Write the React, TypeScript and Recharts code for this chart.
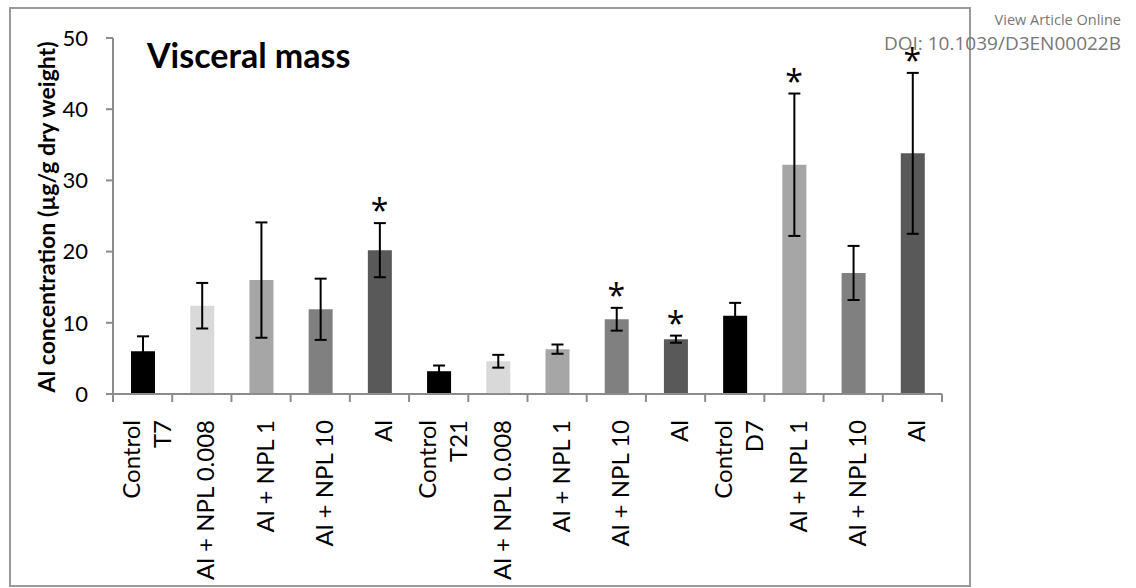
import React from "react";
import {
  ComposedChart,
  Bar,
  Cell,
  ErrorBar,
  Line,
  XAxis,
  YAxis,
} from "recharts";

const categories = [
  "Control\nT7",
  "Al + NPL 0.008",
  "Al + NPL 1",
  "Al + NPL 10",
  "Al",
  "Control\nT21",
  "Al + NPL 0.008",
  "Al + NPL 1",
  "Al + NPL 10",
  "Al",
  "Control\nD7",
  "Al + NPL 1",
  "Al + NPL 10",
  "Al",
];
const values = [6.0, 12.4, 16.0, 11.9, 20.2, 3.2, 4.6, 6.3, 10.5, 7.7, 11.0, 32.2, 17.0, 33.8];
const errors = [2.1, 3.2, 8.1, 4.3, 3.8, 0.8, 0.9, 0.65, 1.6, 0.5, 1.8, 10.0, 3.8, 11.3];
const significant = [false, false, false, false, true, false, false, false, true, true, false, true, false, true];
const yTicks = [0, 10, 20, 30, 40, 50];

const treatmentColors: Record<string, string> = {
  Control: "#000000",
  "Al + NPL 0.008": "#d9d9d9",
  "Al + NPL 1": "#a6a6a6",
  "Al + NPL 10": "#808080",
  Al: "#595959",
};

const colorFor = (label: string) =>
  label.startsWith("Control") ? treatmentColors.Control : treatmentColors[label];

const data = categories.map((c, i) => ({
  key: String(i),
  value: values[i],
  err: errors[i],
  star: significant[i] ? values[i] + errors[i] : null,
}));

const FONT = "Lato, 'Open Sans', sans-serif";
const AXIS = "#8c8c8c";

// category label plus Excel-style tick marks on the category boundaries
function XTick(props: any) {
  const { x, y, payload, index, width, visibleTicksCount } = props;
  const lines = categories[Number(payload.value)].split("\n");
  const fs = 24;
  const lh = 31;
  const step = Number(width) / Number(visibleTicksCount);
  const marks = Number.isFinite(step)
    ? index === visibleTicksCount - 1
      ? [x - step / 2, x + step / 2]
      : [x - step / 2]
    : [];
  return (
    <g>
      {marks.map((mx, i) => (
        <line key={i} x1={mx} x2={mx} y1={y} y2={y + 8} stroke={AXIS} strokeWidth={2} />
      ))}
      <g transform={`translate(${x + 4},${y + 26}) rotate(-90)`}>
        <text textAnchor="end" fontSize={fs} fontFamily={FONT} fill="#000" stroke="none">
          {lines.map((l, i) => (
            <tspan key={i} x={0} y={(i - (lines.length - 1) / 2) * lh + fs * 0.36}>
              {l}
            </tspan>
          ))}
        </text>
      </g>
    </g>
  );
}

function StarDot(props: any) {
  const { cx, cy, payload, index } = props;
  if (payload.star == null || cy == null) return <g key={index} />;
  return (
    <text
      key={index}
      x={cx}
      y={cy - 1}
      textAnchor="middle"
      fontSize={32}
      fontFamily="'Open Sans', sans-serif"
      fill="#000"
    >
      *
    </text>
  );
}

export default function App() {
  return (
    <div
      style={{
        position: "absolute",
        left: 0,
        top: 0,
        width: 1136,
        height: 588,
        background: "#fff",
      }}
    >
      <div
        style={{
          position: "absolute",
          left: 9,
          top: 7,
          width: 962,
          height: 580,
          boxSizing: "border-box",
          border: "2px solid #9a9a9a",
        }}
      />
      <div style={{ position: "absolute", left: 0, top: 0 }}>
        <ComposedChart
          width={1136}
          height={588}
          data={data}
          margin={{ top: 38, right: 194, left: 0, bottom: 0 }}
        >
          <XAxis
            dataKey="key"
            type="category"
            height={194}
            stroke={AXIS}
            strokeWidth={2}
            axisLine
            tickLine={false}
            tickSize={0}
            tickMargin={0}
            interval={0}
            tick={<XTick />}
          />
          <YAxis
            type="number"
            domain={[0, 50]}
            ticks={yTicks}
            width={113}
            tickSize={7}
            tickMargin={18}
            stroke={AXIS}
            strokeWidth={2}
            axisLine
            tickLine
            tick={{ fill: "#000", fontSize: 22, fontFamily: FONT }}
          />
          <Bar dataKey="value" barSize={24} isAnimationActive={false}>
            {data.map((d, i) => (
              <Cell key={i} fill={colorFor(categories[i])} />
            ))}
            <ErrorBar dataKey="err" width={6} strokeWidth={2} stroke="#000" direction="y" />
          </Bar>
          <Line
            dataKey="star"
            stroke="none"
            dot={<StarDot />}
            activeDot={false}
            isAnimationActive={false}
            connectNulls={false}
          />
        </ComposedChart>
      </div>
      <svg
        width={1136}
        height={588}
        style={{ position: "absolute", left: 0, top: 0, pointerEvents: "none" }}
      >
        <text x={147} y={68} fontSize={34} fontWeight="bold" fontFamily={FONT} fill="#000">
          Visceral mass
        </text>
        <text
          transform="translate(55,217) rotate(-90)"
          textAnchor="middle"
          fontSize={23}
          fontWeight="bold"
          fontFamily={FONT}
          fill="#000"
        >
          Al concentration (µg/g dry weight)
        </text>
        <text
          x={1121}
          y={25}
          textAnchor="end"
          fontSize={14.5}
          fontFamily="'Open Sans', sans-serif"
          fill="#777"
        >
          View Article Online
        </text>
        <text
          x={1121}
          y={50}
          textAnchor="end"
          fontSize={19}
          fontFamily="'Open Sans', sans-serif"
          fill="#777"
        >
          DOI: 10.1039/D3EN00022B
        </text>
      </svg>
    </div>
  );
}
